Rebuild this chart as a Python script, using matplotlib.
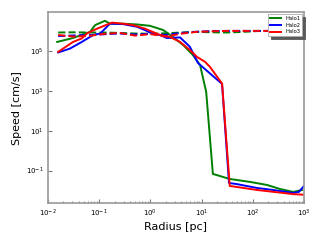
import matplotlib
matplotlib.use("Agg")
import matplotlib.pyplot as plt
from matplotlib.ticker import NullLocator

# Halo1 (green)
r1 = [0.0151, 0.0309, 0.0661, 0.0832, 0.129, 0.162, 0.288, 0.55, 0.98, 1.78, 2.75,
      4.37, 6.76, 9.33, 12.3, 16.6, 35.5, 89, 190, 339, 617, 912]
v1 = [2.8e5, 4.4e5, 8.9e5, 1.95e6, 3.2e6, 2.3e6, 2.3e6, 2.1e6, 1.8e6, 1.1e6, 5.0e5,
      1.95e5, 6.2e4, 1.95e4, 870, 0.068, 0.038, 0.027, 0.019, 0.012, 0.0085, 0.0107]
# Halo2 (blue)
r2 = [0.0158, 0.0269, 0.0457, 0.0759, 0.105, 0.162, 0.288, 0.55, 0.78, 1.07, 1.55,
      2.09, 3.8, 5.9, 8.5, 25.1, 34.3, 49, 120, 245, 617, 794, 1000]
v2 = [8.3e4, 1.3e5, 2.8e5, 6.2e5, 7.4e5, 2.3e6, 2.2e6, 1.6e6, 1.1e6, 7.4e5, 6.2e5,
      4.4e5, 4.7e5, 1.6e5, 2.45e4, 2.2e3, 0.024, 0.021, 0.0135, 0.0107, 0.0076, 0.0085, 0.017]
# Halo3 (red)
r3 = [0.0158, 0.0309, 0.0457, 0.0575, 0.0912, 0.178, 0.288, 0.457, 0.78, 1.55, 2.4,
      3.8, 5.9, 8.1, 11.7, 14.5, 25.1, 35.5, 120, 339, 617, 955]
v3 = [8.9e4, 2.8e5, 4.2e5, 7.4e5, 1.3e6, 2.6e6, 2.3e6, 1.95e6, 1.3e6, 6.2e5, 5.0e5,
      2.8e5, 1.1e5, 5.0e4, 2.8e4, 1.6e4, 2.3e3, 0.017, 0.0107, 0.0079, 0.0066, 0.0062]

# dashed curves
rd = [0.0158, 0.0316, 0.0631, 0.126, 0.251, 0.501, 1.0, 2.0, 3.98, 7.94, 15.8,
      31.6, 63.1, 126, 251, 501, 1000]
c1 = [8.3e5, 8.5e5, 8.3e5, 8.3e5, 7.9e5, 7.4e5, 7.2e5, 7.6e5, 8.3e5, 8.9e5, 8.5e5,
      8.3e5, 8.9e5, 9.8e5, 1.0e6, 1.0e6, 1.0e6]
c2 = [5.5e5, 5.9e5, 6.2e5, 6.8e5, 7.4e5, 6.6e5, 7.1e5, 6.3e5, 7.9e5, 9.1e5, 9.8e5,
      1.0e6, 1.0e6, 1.0e6, 1.0e6, 1.0e6, 1.0e6]
c3 = [6.2e5, 5.2e5, 5.6e5, 7.1e5, 7.9e5, 5.8e5, 6.9e5, 5.2e5, 7.2e5, 8.9e5, 9.5e5,
      1.0e6, 1.0e6, 1.0e6, 1.0e6, 1.0e6, 1.0e6]

labels = ["Halo1", "Halo2", "Halo3"]
colors = ["green", "blue", "red"]

fig = plt.figure(figsize=(3.2, 2.4), dpi=100)
ax = fig.add_axes([0.15, 0.153, 0.80, 0.796])

for r, v, c, lab, col in [(r1, v1, c1, labels[0], colors[0]),
                          (r2, v2, c2, labels[1], colors[1]),
                          (r3, v3, c3, labels[2], colors[2])]:
    ax.plot(r, v, color=col, lw=1.4, label=lab)
    ax.plot(rd, c, color=col, lw=1.4, ls="--")

ax.set_xscale("log")
ax.set_yscale("log")
ax.set_xlim(1e-2, 1e3)
ax.set_ylim(2.3e-3, 8.6e6)

ax.set_yticks([1e-1, 1e1, 1e3, 1e5])
ax.yaxis.set_minor_locator(NullLocator())

for s in ax.spines.values():
    s.set_color("#999999")
    s.set_linewidth(1.2)
ax.tick_params(which="both", direction="in", colors="#777777", labelcolor="black",
               labelsize=5, pad=3)
ax.tick_params(which="major", length=3, width=0.8)
ax.tick_params(which="minor", length=1.5, width=0.6)

ax.set_xlabel("Radius [pc]", fontsize=8, labelpad=2)
ax.set_ylabel("Speed [cm/s]", fontsize=8, labelpad=3)

leg = ax.legend(loc="upper right", fontsize=3.8, shadow={"color": "0.35", "alpha": 1},
                fancybox=False, handlelength=2.2, borderaxespad=0.3, framealpha=1,
                labelspacing=0.35, borderpad=0.35)
leg.get_frame().set_edgecolor("#aaaaaa")
leg.get_frame().set_linewidth(0.6)

fig.savefig("out.png", dpi=100)
